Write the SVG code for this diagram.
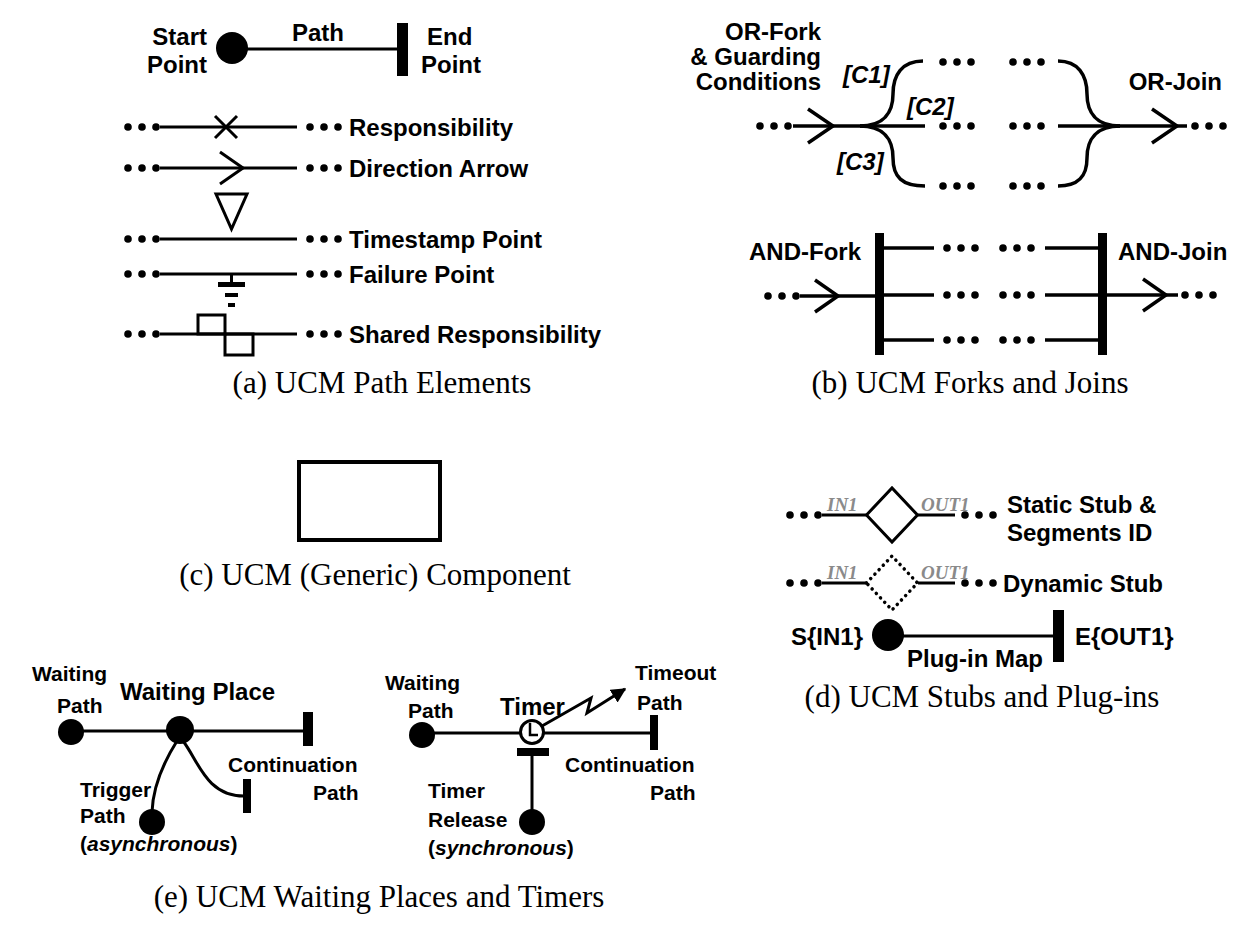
<svg xmlns="http://www.w3.org/2000/svg" xmlns:xlink="http://www.w3.org/1999/xlink" width="1260" height="930" viewBox="0 0 1260 930">
<style>
.l{font-family:"Liberation Sans",Arial,Helvetica,sans-serif;font-weight:bold;font-size:24px;fill:#000}
.s{font-size:21px}
.c{font-family:"Liberation Serif","Times New Roman",serif;font-size:31px;fill:#000}
.g{font-family:"Liberation Serif","Times New Roman",serif;font-style:italic;font-weight:bold;font-size:19px;fill:#8a8a8a}
.ln{stroke:#000;stroke-width:3;fill:none}
.thk{stroke:#000;stroke-width:3.5;fill:none}
.f{fill:#000}
</style>
<defs>
<g id="d3"><circle cx="0" cy="0" r="3.8"/><circle cx="14" cy="0" r="3.8"/><circle cx="28" cy="0" r="3.8"/></g>
<marker id="ah" viewBox="0 0 10 10" refX="9" refY="5" markerWidth="5" markerHeight="5" orient="auto" markerUnits="strokeWidth"><path d="M0,0 L10,5 L0,10 z" fill="#000"/></marker>
</defs>
<rect width="1260" height="930" fill="#fff"/>

<g id="connectors">
<line class="ln" x1="232" y1="49" x2="398" y2="49"/>
<line class="ln" x1="160" y1="127" x2="297" y2="127"/>
<line class="ln" x1="160" y1="168" x2="297" y2="168"/>
<line class="ln" x1="160" y1="239" x2="297" y2="239"/>
<line class="ln" x1="160" y1="274" x2="297" y2="274"/>
<line class="ln" x1="160" y1="334" x2="297" y2="334"/>
<line class="thk" x1="793" y1="126" x2="925" y2="126"/>
<path class="thk" d="M860,126 C884,126 893,112 893,94 C893,75 902,61 923,61"/>
<path class="thk" d="M860,126 C884,126 893,140 893,158 C893,177 902,186 925,186"/>
<line class="thk" x1="1058" y1="126" x2="1187" y2="126"/>
<path class="thk" d="M1058,61 C1078,61 1087,75 1087,94 C1087,112 1096,126 1120,126"/>
<path class="thk" d="M1058,186 C1078,186 1087,177 1087,158 C1087,140 1096,126 1120,126"/>
<line class="thk" x1="800" y1="296" x2="876" y2="296"/>
<line class="thk" x1="884" y1="248" x2="934" y2="248"/>
<line class="thk" x1="884" y1="295" x2="934" y2="295"/>
<line class="thk" x1="884" y1="340" x2="934" y2="340"/>
<line class="thk" x1="1045" y1="248" x2="1098" y2="248"/>
<line class="thk" x1="1045" y1="295" x2="1098" y2="295"/>
<line class="thk" x1="1045" y1="340" x2="1098" y2="340"/>
<line class="thk" x1="1107" y1="295" x2="1178" y2="295"/>
<line class="ln" x1="822" y1="515" x2="867" y2="515"/>
<line class="ln" x1="918" y1="515" x2="955" y2="515"/>
<line class="ln" x1="822" y1="583" x2="866" y2="583"/>
<line class="ln" x1="918" y1="583" x2="955" y2="583"/>
<line class="ln" x1="888" y1="636" x2="1054" y2="636"/>
<line class="ln" x1="71" y1="731" x2="304" y2="731"/>
<path class="ln" d="M177,741 C165,760 153,785 152,812"/>
<path class="ln" d="M183,741 C198,760 206,796 244,796"/>
<line class="ln" x1="422" y1="733" x2="651" y2="733"/>
<line class="ln" x1="532" y1="756" x2="532" y2="812"/>
<polyline class="ln" points="542,726 591,698 587,713 625,689" stroke-width="2.5" marker-end="url(#ah)"/>
</g>

<g id="a-start"><circle cx="232" cy="48" r="16" class="f"/></g>
<g id="a-end"><rect x="397" y="23" width="11" height="53" class="f"/></g>
<g id="a-labels">
<text class="l" x="207" y="45" text-anchor="end">Start</text>
<text class="l" x="207" y="73" text-anchor="end">Point</text>
<text class="l" x="292" y="41">Path</text>
<text class="l" x="427" y="45">End</text>
<text class="l" x="421" y="73">Point</text>
</g>
<g id="a-resp">
<use xlink:href="#d3" href="#d3" x="128" y="127"/><use xlink:href="#d3" href="#d3" x="310" y="127"/>
<path class="ln" d="M215,116 L237,138 M215,138 L237,116"/>
<text class="l" x="349" y="136">Responsibility</text>
</g>
<g id="a-dir">
<use xlink:href="#d3" href="#d3" x="128" y="168"/><use xlink:href="#d3" href="#d3" x="310" y="168"/>
<polyline class="ln" points="220,152 243,168 220,184"/>
<text class="l" x="349" y="177">Direction Arrow</text>
</g>
<g id="a-time">
<use xlink:href="#d3" href="#d3" x="128" y="239"/><use xlink:href="#d3" href="#d3" x="310" y="239"/>
<polygon class="ln" points="216,194 247,194 231.5,229" fill="#fff"/>
<text class="l" x="349" y="248">Timestamp Point</text>
</g>
<g id="a-fail">
<use xlink:href="#d3" href="#d3" x="128" y="274"/><use xlink:href="#d3" href="#d3" x="310" y="274"/>
<line class="ln" x1="231.5" y1="274" x2="231.5" y2="283"/>
<rect x="218" y="282" width="27" height="5" class="f"/>
<rect x="225" y="293" width="13" height="4" class="f"/>
<rect x="228" y="303" width="7" height="4" class="f"/>
<text class="l" x="349" y="283">Failure Point</text>
</g>
<g id="a-shared">
<use xlink:href="#d3" href="#d3" x="128" y="334"/><use xlink:href="#d3" href="#d3" x="310" y="334"/>
<rect class="ln" x="198" y="315" width="27" height="19"/>
<rect class="ln" x="225" y="334" width="28" height="21"/>
<text class="l" x="349" y="343">Shared Responsibility</text>
</g>
<text class="c" x="382" y="393" text-anchor="middle">(a) UCM Path Elements</text>

<g id="b-orfork">
<use xlink:href="#d3" href="#d3" x="760" y="126"/>
<polyline class="thk" points="808,109 833,126 808,143"/>
<text class="l" x="821" y="40" text-anchor="end">OR-Fork</text>
<text class="l" x="821" y="65" text-anchor="end">&amp; Guarding</text>
<text class="l" x="821" y="90" text-anchor="end">Conditions</text>
<text class="l" x="843" y="83" font-style="italic">[C1]</text>
<text class="l" x="907" y="115" font-style="italic">[C2]</text>
<text class="l" x="837" y="170" font-style="italic">[C3]</text>
</g>
<g id="b-ordots">
<use xlink:href="#d3" href="#d3" x="943" y="62"/><use xlink:href="#d3" href="#d3" x="1013" y="62"/>
<use xlink:href="#d3" href="#d3" x="943" y="126"/><use xlink:href="#d3" href="#d3" x="1013" y="126"/>
<use xlink:href="#d3" href="#d3" x="943" y="186"/><use xlink:href="#d3" href="#d3" x="1013" y="186"/>
</g>
<g id="b-orjoin">
<polyline class="thk" points="1152,109 1177,126 1152,143"/>
<use xlink:href="#d3" href="#d3" x="1195" y="126"/>
<text class="l" x="1222" y="90" text-anchor="end">OR-Join</text>
</g>
<g id="b-andfork">
<use xlink:href="#d3" href="#d3" x="768" y="296"/>
<polyline class="thk" points="815,280 838,296 815,312"/>
<rect x="875" y="233" width="9" height="122" class="f"/>
<text class="l" x="861" y="260" text-anchor="end">AND-Fork</text>
</g>
<g id="b-anddots">
<use xlink:href="#d3" href="#d3" x="947" y="248"/><use xlink:href="#d3" href="#d3" x="1003" y="248"/>
<use xlink:href="#d3" href="#d3" x="947" y="295"/><use xlink:href="#d3" href="#d3" x="1003" y="295"/>
<use xlink:href="#d3" href="#d3" x="947" y="340"/><use xlink:href="#d3" href="#d3" x="1003" y="340"/>
</g>
<g id="b-andjoin">
<rect x="1098" y="233" width="9" height="122" class="f"/>
<polyline class="thk" points="1143,279 1166,295 1143,311"/>
<use xlink:href="#d3" href="#d3" x="1185" y="295"/>
<text class="l" x="1118" y="260">AND-Join</text>
</g>
<text class="c" x="970" y="393" text-anchor="middle">(b) UCM Forks and Joins</text>

<g id="c-component"><rect x="299" y="462" width="141" height="78" fill="#fff" stroke="#000" stroke-width="4"/></g>
<text class="c" x="375" y="585" text-anchor="middle">(c) UCM (Generic) Component</text>

<g id="d-static">
<use xlink:href="#d3" href="#d3" x="790" y="515"/><use xlink:href="#d3" href="#d3" x="965" y="515"/>
<polygon class="ln" points="866.5,515 892,488 917.5,515 892,542" fill="#fff"/>
<text class="g" x="827" y="511">IN1</text>
<text class="g" x="921" y="511">OUT1</text>
<text class="l" x="1007" y="513">Static Stub &amp;</text>
<text class="l" x="1007" y="541">Segments ID</text>
</g>
<g id="d-dynamic">
<use xlink:href="#d3" href="#d3" x="790" y="583"/><use xlink:href="#d3" href="#d3" x="965" y="583"/>
<polygon points="866.5,583 892,556 917.5,583 892,610" fill="#fff" stroke="#000" stroke-width="3.5" stroke-linecap="round" stroke-dasharray="0.1,6"/>
<text class="g" x="827" y="579">IN1</text>
<text class="g" x="921" y="579">OUT1</text>
<text class="l" x="1003" y="592">Dynamic Stub</text>
</g>
<g id="d-plugin">
<circle cx="888" cy="635" r="16" class="f"/>
<rect x="1053" y="610" width="11" height="52" class="f"/>
<text class="l" x="863" y="645" text-anchor="end">S{IN1}</text>
<text class="l" x="1075" y="645">E{OUT1}</text>
<text class="l" x="907" y="667">Plug-in Map</text>
</g>
<text class="c" x="982" y="707" text-anchor="middle">(d) UCM Stubs and Plug-ins</text>

<g id="e-wait-start">
<circle cx="71" cy="732" r="13" class="f"/>
<text class="l s" x="32" y="681">Waiting</text>
<text class="l s" x="57" y="713">Path</text>
</g>
<g id="e-waitplace">
<circle cx="180" cy="730" r="14" class="f"/>
<text class="l" x="120" y="700" font-size="23">Waiting Place</text>
</g>
<g id="e-wait-end"><rect x="303" y="712" width="10" height="34" class="f"/></g>
<g id="e-trigger">
<circle cx="152" cy="822" r="13" class="f"/>
<text class="l s" x="80" y="797">Trigger</text>
<text class="l s" x="80" y="823">Path</text>
<text class="l s" x="80" y="851">(<tspan font-style="italic">asynchronous</tspan>)</text>
</g>
<g id="e-cont">
<rect x="243" y="779" width="8" height="34" class="f"/>
<text class="l s" x="228" y="772">Continuation</text>
<text class="l s" x="313" y="800">Path</text>
</g>
<g id="e-timer-start">
<circle cx="422" cy="735" r="13" class="f"/>
<text class="l s" x="385" y="690">Waiting</text>
<text class="l s" x="408" y="718">Path</text>
</g>
<g id="e-timer">
<circle cx="532" cy="732" r="11.5" fill="#fff" stroke="#000" stroke-width="3"/>
<polyline points="530,723 530,735 538,735" fill="none" stroke="#000" stroke-width="2.5"/>
<text class="l" x="500" y="715" font-size="22">Timer</text>
</g>
<g id="e-timeout">
<text class="l s" x="635" y="680">Timeout</text>
<text class="l s" x="637" y="710">Path</text>
</g>
<g id="e-timer-end">
<rect x="650" y="715" width="8" height="35" class="f"/>
<text class="l s" x="565" y="772">Continuation</text>
<text class="l s" x="650" y="800">Path</text>
</g>
<g id="e-release">
<rect x="517" y="748" width="32" height="8" class="f"/>
<circle cx="532" cy="822" r="13" class="f"/>
<text class="l s" x="428" y="798">Timer</text>
<text class="l s" x="428" y="827">Release</text>
<text class="l s" x="428" y="855">(<tspan font-style="italic">synchronous</tspan>)</text>
</g>
<text class="c" x="379" y="907" text-anchor="middle">(e) UCM Waiting Places and Timers</text>
</svg>
